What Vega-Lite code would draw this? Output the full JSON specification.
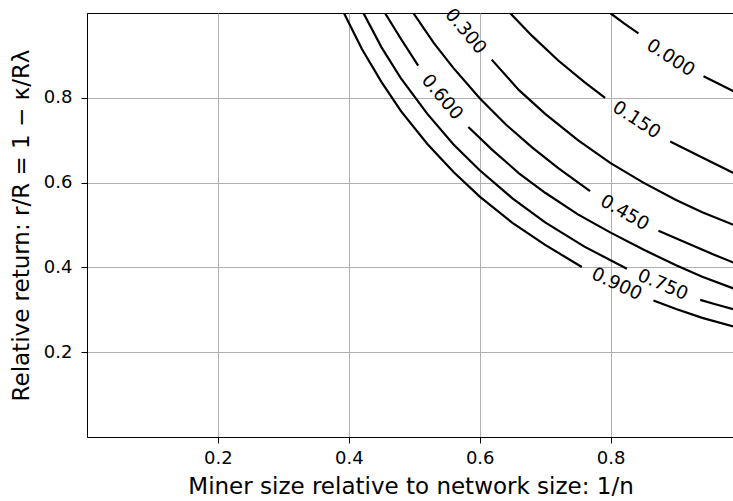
{
  "$schema": "https://vega.github.io/schema/vega-lite/v6.json",
  "width": 647,
  "height": 424,
  "autosize": "none",
  "padding": {"left": 87, "top": 13, "right": 0, "bottom": 64},
  "background": "white",
  "config": {
    "font": "DejaVu Sans",
    "view": {"stroke": "black", "strokeWidth": 1},
    "axis": {
      "domainColor": "black",
      "domainWidth": 1,
      "tickColor": "black",
      "tickWidth": 1,
      "tickSize": 6,
      "labelColor": "black",
      "labelFont": "DejaVu Sans",
      "titleColor": "black",
      "titleFont": "DejaVu Sans",
      "titleFontSize": 23,
      "titleFontWeight": "normal",
      "gridColor": "#b0b0b0",
      "gridWidth": 1,
      "gridOpacity": 1
    }
  },
  "datasets": {
    "lines": [
      {"level": "0.900", "seg": "0.900a", "x": 0.3925, "y": 1.0},
      {"level": "0.900", "seg": "0.900a", "x": 0.42, "y": 0.915},
      {"level": "0.900", "seg": "0.900a", "x": 0.45, "y": 0.837},
      {"level": "0.900", "seg": "0.900a", "x": 0.48, "y": 0.768},
      {"level": "0.900", "seg": "0.900a", "x": 0.52, "y": 0.691},
      {"level": "0.900", "seg": "0.900a", "x": 0.56, "y": 0.625},
      {"level": "0.900", "seg": "0.900a", "x": 0.60, "y": 0.567},
      {"level": "0.900", "seg": "0.900a", "x": 0.65, "y": 0.505},
      {"level": "0.900", "seg": "0.900a", "x": 0.70, "y": 0.453},
      {"level": "0.900", "seg": "0.900a", "x": 0.756, "y": 0.401},
      {"level": "0.900", "seg": "0.900b", "x": 0.8654, "y": 0.322},
      {"level": "0.900", "seg": "0.900b", "x": 0.90, "y": 0.302},
      {"level": "0.900", "seg": "0.900b", "x": 0.94, "y": 0.281},
      {"level": "0.900", "seg": "0.900b", "x": 0.9885, "y": 0.260},

      {"level": "0.750", "seg": "0.750a", "x": 0.4223, "y": 1.0},
      {"level": "0.750", "seg": "0.750a", "x": 0.45, "y": 0.919},
      {"level": "0.750", "seg": "0.750a", "x": 0.48, "y": 0.845},
      {"level": "0.750", "seg": "0.750a", "x": 0.52, "y": 0.762},
      {"level": "0.750", "seg": "0.750a", "x": 0.56, "y": 0.690},
      {"level": "0.750", "seg": "0.750a", "x": 0.60, "y": 0.629},
      {"level": "0.750", "seg": "0.750a", "x": 0.65, "y": 0.563},
      {"level": "0.750", "seg": "0.750a", "x": 0.70, "y": 0.506},
      {"level": "0.750", "seg": "0.750a", "x": 0.76, "y": 0.449},
      {"level": "0.750", "seg": "0.750a", "x": 0.8248, "y": 0.397},
      {"level": "0.750", "seg": "0.750b", "x": 0.9369, "y": 0.3235},
      {"level": "0.750", "seg": "0.750b", "x": 0.96, "y": 0.313},
      {"level": "0.750", "seg": "0.750b", "x": 0.9885, "y": 0.301},

      {"level": "0.600", "seg": "0.600a", "x": 0.4552, "y": 1.0},
      {"level": "0.600", "seg": "0.600a", "x": 0.48, "y": 0.938},
      {"level": "0.600", "seg": "0.600a", "x": 0.506, "y": 0.876},
      {"level": "0.600", "seg": "0.600b", "x": 0.5826, "y": 0.731},
      {"level": "0.600", "seg": "0.600b", "x": 0.62, "y": 0.676},
      {"level": "0.600", "seg": "0.600b", "x": 0.66, "y": 0.622},
      {"level": "0.600", "seg": "0.600b", "x": 0.70, "y": 0.576},
      {"level": "0.600", "seg": "0.600b", "x": 0.75, "y": 0.525},
      {"level": "0.600", "seg": "0.600b", "x": 0.80, "y": 0.482},
      {"level": "0.600", "seg": "0.600b", "x": 0.85, "y": 0.442},
      {"level": "0.600", "seg": "0.600b", "x": 0.90, "y": 0.405},
      {"level": "0.600", "seg": "0.600b", "x": 0.94, "y": 0.378},
      {"level": "0.600", "seg": "0.600b", "x": 0.9885, "y": 0.350},

      {"level": "0.450", "seg": "0.450a", "x": 0.4985, "y": 1.0},
      {"level": "0.450", "seg": "0.450a", "x": 0.53, "y": 0.929},
      {"level": "0.450", "seg": "0.450a", "x": 0.56, "y": 0.870},
      {"level": "0.450", "seg": "0.450a", "x": 0.60, "y": 0.799},
      {"level": "0.450", "seg": "0.450a", "x": 0.64, "y": 0.737},
      {"level": "0.450", "seg": "0.450a", "x": 0.68, "y": 0.683},
      {"level": "0.450", "seg": "0.450a", "x": 0.72, "y": 0.634},
      {"level": "0.450", "seg": "0.450a", "x": 0.7686, "y": 0.580},
      {"level": "0.450", "seg": "0.450b", "x": 0.8731, "y": 0.4864},
      {"level": "0.450", "seg": "0.450b", "x": 0.92, "y": 0.455},
      {"level": "0.450", "seg": "0.450b", "x": 0.96, "y": 0.4286},
      {"level": "0.450", "seg": "0.450b", "x": 0.9885, "y": 0.411},

      {"level": "0.300", "seg": "0.300b", "x": 0.6183, "y": 0.890},
      {"level": "0.300", "seg": "0.300b", "x": 0.66, "y": 0.818},
      {"level": "0.300", "seg": "0.300b", "x": 0.70, "y": 0.762},
      {"level": "0.300", "seg": "0.300b", "x": 0.75, "y": 0.700},
      {"level": "0.300", "seg": "0.300b", "x": 0.80, "y": 0.646},
      {"level": "0.300", "seg": "0.300b", "x": 0.85, "y": 0.600},
      {"level": "0.300", "seg": "0.300b", "x": 0.90, "y": 0.559},
      {"level": "0.300", "seg": "0.300b", "x": 0.94, "y": 0.530},
      {"level": "0.300", "seg": "0.300b", "x": 0.9885, "y": 0.500},

      {"level": "0.150", "seg": "0.150a", "x": 0.6463, "y": 1.0},
      {"level": "0.150", "seg": "0.150a", "x": 0.68, "y": 0.946},
      {"level": "0.150", "seg": "0.150a", "x": 0.72, "y": 0.888},
      {"level": "0.150", "seg": "0.150a", "x": 0.76, "y": 0.837},
      {"level": "0.150", "seg": "0.150a", "x": 0.7916, "y": 0.800},
      {"level": "0.150", "seg": "0.150b", "x": 0.891, "y": 0.697},
      {"level": "0.150", "seg": "0.150b", "x": 0.94, "y": 0.659},
      {"level": "0.150", "seg": "0.150b", "x": 0.9885, "y": 0.622},

      {"level": "0.000", "seg": "0.000a", "x": 0.7993, "y": 1.0},
      {"level": "0.000", "seg": "0.000a", "x": 0.82, "y": 0.976},
      {"level": "0.000", "seg": "0.000a", "x": 0.8425, "y": 0.952},
      {"level": "0.000", "seg": "0.000b", "x": 0.9419, "y": 0.851},
      {"level": "0.000", "seg": "0.000b", "x": 0.965, "y": 0.833},
      {"level": "0.000", "seg": "0.000b", "x": 0.9885, "y": 0.815}
    ],
    "labels": [
      {"label": "0.300", "x": 0.579, "y": 0.957},
      {"label": "0.600", "x": 0.5428, "y": 0.802},
      {"label": "0.000", "x": 0.892, "y": 0.895},
      {"label": "0.150", "x": 0.840, "y": 0.7485},
      {"label": "0.450", "x": 0.8217, "y": 0.5296},
      {"label": "0.900", "x": 0.8095, "y": 0.3613},
      {"label": "0.750", "x": 0.8798, "y": 0.3596}
    ]
  },
  "encoding": {
    "x": {
      "field": "x", "type": "quantitative",
      "scale": {"domain": [0, 0.9885], "nice": false, "zero": false},
      "axis": {"values": [0.2, 0.4, 0.6, 0.8], "format": ".1f", "labelFontSize": 18, "labelPadding": 6, "titlePadding": 8, "title": "Miner size relative to network size: 1/n"}
    },
    "y": {
      "field": "y", "type": "quantitative",
      "scale": {"domain": [0, 1.0], "nice": false, "zero": false},
      "axis": {"values": [0.2, 0.4, 0.6, 0.8], "format": ".1f", "labelFontSize": 18, "labelPadding": 9, "titlePadding": 10, "title": "Relative return: r/R = 1 − κ/Rλ"}
    }
  },
  "layer": [
    {
      "data": {"name": "lines"},
      "mark": {"type": "line", "color": "black", "strokeWidth": 2.2, "clip": true},
      "encoding": {"detail": {"field": "seg"}}
    },
    {
      "data": {"name": "labels"},
      "transform": [{"filter": {"field": "label", "oneOf": ["0.300", "0.600"]}}],
      "mark": {"type": "text", "angle": 50, "fontSize": 18.5, "font": "DejaVu Sans", "color": "black", "align": "center", "baseline": "middle"},
      "encoding": {"text": {"field": "label"}}
    },
    {
      "data": {"name": "labels"},
      "transform": [{"filter": {"field": "label", "oneOf": ["0.000", "0.150"]}}],
      "mark": {"type": "text", "angle": 33, "fontSize": 18.5, "font": "DejaVu Sans", "color": "black", "align": "center", "baseline": "middle"},
      "encoding": {"text": {"field": "label"}}
    },
    {
      "data": {"name": "labels"},
      "transform": [{"filter": {"field": "label", "oneOf": ["0.450"]}}],
      "mark": {"type": "text", "angle": 30, "fontSize": 18.5, "font": "DejaVu Sans", "color": "black", "align": "center", "baseline": "middle"},
      "encoding": {"text": {"field": "label"}}
    },
    {
      "data": {"name": "labels"},
      "transform": [{"filter": {"field": "label", "oneOf": ["0.900"]}}],
      "mark": {"type": "text", "angle": 25, "fontSize": 18.5, "font": "DejaVu Sans", "color": "black", "align": "center", "baseline": "middle"},
      "encoding": {"text": {"field": "label"}}
    },
    {
      "data": {"name": "labels"},
      "transform": [{"filter": {"field": "label", "oneOf": ["0.750"]}}],
      "mark": {"type": "text", "angle": 23, "fontSize": 18.5, "font": "DejaVu Sans", "color": "black", "align": "center", "baseline": "middle"},
      "encoding": {"text": {"field": "label"}}
    }
  ]
}
